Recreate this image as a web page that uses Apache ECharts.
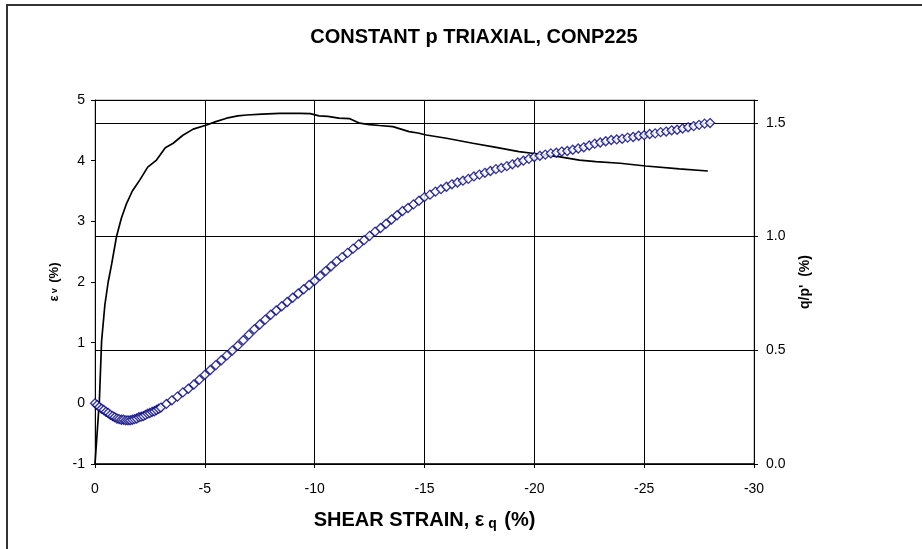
<!DOCTYPE html>
<html>
<head>
<meta charset="utf-8">
<script src="https://cdn.jsdelivr.net/npm/echarts@6/dist/echarts.min.js"></script>
<style>
html,body{margin:0;padding:0;background:#fff;}
#chart{width:922px;height:549px;}
</style>
</head>
<body>
<div id="chart"></div>
<script>
// Tick labels
const xTicks = [0, -5, -10, -15, -20, -25, -30];
const leftTicks = [-1, 0, 1, 2, 3, 4, 5];
const rightTicks = [0.0, 0.5, 1.0, 1.5];

// Volumetric strain (blue open diamonds, left axis)
const evStrain = [0, -0.1, -0.2, -0.3, -0.4, -0.5, -0.6, -0.7, -0.8, -0.9, -1.0, -1.1, -1.2, -1.3, -1.4, -1.5, -1.6, -1.7, -1.8, -1.9, -2.0, -2.1, -2.2, -2.3, -2.4, -2.5, -2.6, -2.7, -2.8, -2.9, -3.0,
  -3.25, -3.5, -3.75, -4.0, -4.25, -4.5, -4.75, -5.0, -5.25, -5.5, -5.75, -6.0, -6.25, -6.5, -6.75, -7.0, -7.25, -7.5, -7.75, -8.0, -8.25, -8.5, -8.75, -9.0, -9.25, -9.5, -9.75, -10.0,
  -10.25, -10.5, -10.75, -11.0, -11.25, -11.5, -11.75, -12.0, -12.25, -12.5, -12.75, -13.0, -13.25, -13.5, -13.75, -14.0, -14.25, -14.5, -14.75, -15.0, -15.25, -15.5, -15.75, -16.0,
  -16.25, -16.5, -16.75, -17.0, -17.25, -17.5, -17.75, -18.0, -18.25, -18.5, -18.75, -19.0, -19.25, -19.5, -19.75, -20.0, -20.25, -20.5, -20.75, -21.0, -21.25, -21.5, -21.75, -22.0,
  -22.25, -22.5, -22.75, -23.0, -23.25, -23.5, -23.75, -24.0, -24.25, -24.5, -24.75, -25.0, -25.25, -25.5, -25.75, -26.0, -26.25, -26.5, -26.75, -27.0, -27.25, -27.5, -27.75, -28.0];
const evValues = [0.0, -0.03, -0.06, -0.09, -0.11, -0.14, -0.16, -0.19, -0.21, -0.23, -0.25, -0.26, -0.27, -0.27, -0.28, -0.28, -0.28, -0.27, -0.26, -0.25, -0.23, -0.22, -0.21, -0.19, -0.17, -0.16, -0.14, -0.13, -0.11, -0.09, -0.07,
  -0.01, 0.05, 0.11, 0.18, 0.24, 0.31, 0.39, 0.47, 0.55, 0.63, 0.71, 0.79, 0.87, 0.95, 1.04, 1.13, 1.22, 1.30, 1.38, 1.46, 1.53, 1.60, 1.67, 1.74, 1.81, 1.88, 1.95, 2.02,
  2.10, 2.18, 2.26, 2.34, 2.41, 2.48, 2.55, 2.62, 2.69, 2.76, 2.83, 2.89, 2.96, 3.03, 3.10, 3.17, 3.22, 3.28, 3.34, 3.40, 3.44, 3.49, 3.53, 3.57,
  3.61, 3.64, 3.67, 3.70, 3.74, 3.77, 3.80, 3.83, 3.86, 3.88, 3.91, 3.94, 3.97, 4.00, 4.03, 4.06, 4.08, 4.10, 4.12, 4.13, 4.15, 4.16, 4.18, 4.20,
  4.22, 4.25, 4.28, 4.30, 4.32, 4.34, 4.35, 4.36, 4.38, 4.39, 4.41, 4.42, 4.44, 4.45, 4.47, 4.48, 4.50, 4.51, 4.53, 4.55, 4.57, 4.59, 4.61, 4.62];

// Stress ratio q/p' (black line, right axis)
const qpStrain = [0, -0.2, -0.3, -0.45, -0.6, -0.76, -0.98, -1.2, -1.44, -1.7, -2.05, -2.4, -2.8, -3.2, -3.56, -4.0, -4.47, -5.08, -5.5, -5.99, -6.5, -6.9, -7.6, -8.4, -9.3, -9.8, -10.2, -10.6, -11.1, -11.6, -12.05, -12.5, -12.95, -13.56, -14.3, -14.7, -15.08, -16.0, -17.2, -18.26, -19.3, -19.9, -20.5, -21.1, -22.05, -22.8, -23.9, -25.07, -26.6, -27.9];
const qpValues = [0.0, 0.28, 0.54, 0.70, 0.80, 0.88, 1.00, 1.08, 1.146, 1.20, 1.25, 1.305, 1.336, 1.39, 1.41, 1.445, 1.472, 1.49, 1.505, 1.52, 1.53, 1.534, 1.538, 1.541, 1.541, 1.540, 1.530, 1.528, 1.520, 1.518, 1.498, 1.492, 1.488, 1.483, 1.461, 1.455, 1.446, 1.432, 1.410, 1.392, 1.373, 1.366, 1.358, 1.351, 1.336, 1.329, 1.322, 1.310, 1.297, 1.288];

const evData = evStrain.map((s, i) => [s, evValues[i]]);
const qpData = qpStrain.map((s, i) => [s, qpValues[i]]);

const FONT = 'Liberation Sans, Arial, sans-serif';
const chart = echarts.init(document.getElementById('chart'), null, {renderer: 'canvas'});
chart.setOption({
  backgroundColor: '#fff',
  animation: false,
  title: {
    text: 'CONSTANT p TRIAXIAL, CONP225',
    left: 469, top: 22, textAlign: 'center',
    textStyle: {fontFamily: FONT, fontSize: 20, fontWeight: 'bold', color: '#000'}
  },
  graphic: [
    {type: 'line', shape: {x1: 6, y1: 5, x2: 922, y2: 5}, style: {stroke: '#333', lineWidth: 2}},
    {type: 'line', shape: {x1: 7, y1: 5, x2: 7, y2: 549}, style: {stroke: '#333', lineWidth: 2}}
  ],
  grid: {left: 95, right: 168, top: 100, bottom: 85, show: true, borderColor: '#999', borderWidth: 1},
  xAxis: {
    type: 'value', min: -30, max: 0, interval: 5, inverse: true,
    name: 'SHEAR STRAIN, {e|ε}{sub| q} (%)',
    nameLocation: 'middle', nameGap: 45,
    nameTextStyle: {fontFamily: FONT, fontSize: 20, fontWeight: 'bold', color: '#000',
      rich: {e: {fontFamily: FONT, fontSize: 20, fontWeight: 'bold', color: '#000'},
             sub: {fontFamily: FONT, fontSize: 14, fontWeight: 'bold', color: '#000', padding: [8, 2, 0, 0]}}},
    axisLine: {onZero: false, lineStyle: {color: '#000', width: 1.5}},
    axisTick: {show: true, inside: false, length: 4, lineStyle: {color: '#000'}},
    axisLabel: {fontFamily: FONT, fontSize: 14, color: '#000', margin: 18,
      formatter: v => xTicks.indexOf(v) >= 0 ? (v === 0 ? '0' : String(v)) : ''},
    splitLine: {show: true, lineStyle: {color: '#000', width: 1}}
  },
  yAxis: [
    {
      type: 'value', min: -1, max: 5, interval: 1, position: 'left',
      name: '{e|ε}{sub|v} (%)', nameLocation: 'middle', nameGap: 34,
      nameTextStyle: {fontFamily: FONT, fontSize: 13, fontWeight: 'bold', color: '#000',
        rich: {e: {fontFamily: FONT, fontSize: 13, fontWeight: 'bold', color: '#000'},
               sub: {fontFamily: FONT, fontSize: 9, fontWeight: 'bold', color: '#000', padding: [0, 2, 0, 2]}}},
      axisLine: {show: true, onZero: false, lineStyle: {color: '#000', width: 1}},
      axisTick: {show: true, length: 4, lineStyle: {color: '#000'}},
      axisLabel: {fontFamily: FONT, fontSize: 14, color: '#000', margin: 10,
        formatter: v => leftTicks.indexOf(v) >= 0 ? String(v) : ''},
      splitLine: {show: false}
    },
    {
      type: 'value', min: 0, max: 1.6, interval: 0.5, position: 'right',
      name: "q/p'  (%)", nameLocation: 'middle', nameGap: 44,
      nameTextStyle: {fontFamily: FONT, fontSize: 14, fontWeight: 'bold', color: '#000'},
      axisLine: {show: true, onZero: false, lineStyle: {color: '#000', width: 1}},
      axisTick: {show: true, length: 4, lineStyle: {color: '#000'}},
      axisLabel: {fontFamily: FONT, fontSize: 14, color: '#000', margin: 12,
        formatter: v => rightTicks.some(t => Math.abs(t - v) < 1e-6) ? v.toFixed(1) : ''},
      splitLine: {show: true, lineStyle: {color: '#000', width: 1}}
    }
  ],
  series: [
    {
      type: 'line', name: "q/p'", yAxisIndex: 1, data: qpData,
      showSymbol: false, symbol: 'none', smooth: false,
      lineStyle: {color: '#000', width: 1.7}, z: 2
    },
    {
      type: 'scatter', name: 'εv', yAxisIndex: 0, data: evData,
      symbol: 'diamond', symbolSize: 9,
      itemStyle: {color: '#fff', borderColor: '#000080', borderWidth: 1.3}, z: 3
    }
  ]
});
</script>
</body>
</html>
